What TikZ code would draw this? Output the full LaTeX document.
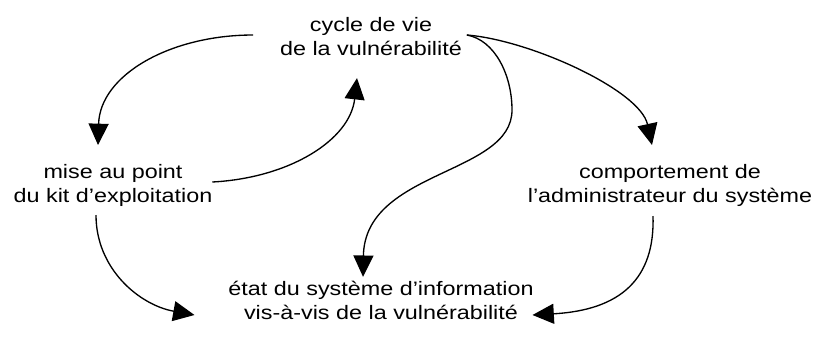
\documentclass[tikz,border=0pt]{standalone}
\usepackage{fontspec}
\setmainfont[FakeStretch=1.2]{Liberation Sans}
\usetikzlibrary{arrows.meta}
\begin{document}
\begin{tikzpicture}[x=0.75pt,y=-0.75pt,
                label/.style={align=center,inner sep=2pt,font=\fontsize{14.6}{18}\selectfont},
                flow/.style={line width=1pt,-{Triangle[length=16pt,width=15pt]}}]
                \useasboundingbox (0,0) rectangle (820,340);
                \node[label] (cycle) at (371,37) {cycle de vie\\de la vulnérabilité};
                \node[label] (kit) at (113,185) {mise au point\\du kit d’exploitation};
                \node[label] (admin) at (670,185) {comportement de\\l’administrateur du système};
                \node[label] (etat) at (381,300) {état du système d’information\\vis-à-vis de la vulnérabilité};
                \coordinate (bend) at (512,110);
                \draw[flow] ([shift={(-24,-2)}]cycle.west) .. controls +(-83,0) and +(2,-70) .. ([shift={(-15,-16)}]kit.north);
                \draw[flow] ([shift={(-3,-3)}]kit.east) .. controls +(77,-4) and +(-7,62) .. ([shift={(-14,19)}]cycle.south);
                \draw[flow] ([shift={(2,-2)}]cycle.east) .. controls +(63,5) and +(-12,-55) .. ([shift={(-18,-16)}]admin.north);
                \draw[flow] ([shift={(2,-2)}]cycle.east) .. controls +(28,5) and +(0,-35) .. (bend)
                    .. controls +(0,65) and +(2,-107) .. ([shift={(-18,-1)}]etat.north);
                \draw[flow] ([shift={(-17,6)}]kit.south) .. controls +(0,54) and +(-55,-10) .. ([shift={(-31,15)}]etat.west);
                \draw[flow] ([shift={(-17,7)}]admin.south) .. controls +(2,63) and +(88,-5) .. ([shift={(-4,15)}]etat.east);
            \end{tikzpicture}
\end{document}
